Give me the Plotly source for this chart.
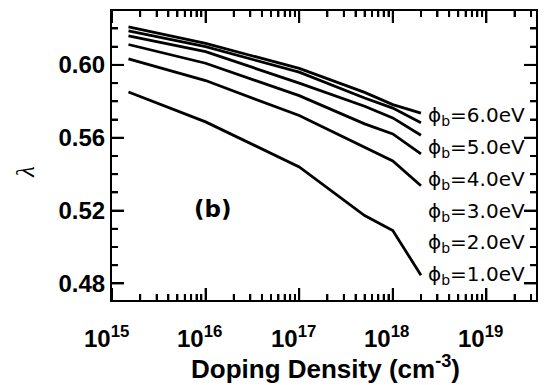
import math
import plotly.graph_objects as go

# Data
doping = [1.5e15, 1e16, 1e17, 5e17, 1e18, 2e18]
lam_6eV = [0.6209, 0.6118, 0.5981, 0.5849, 0.5782, 0.5735]
lam_5eV = [0.6187, 0.6100, 0.5960, 0.5818, 0.5763, 0.5682]
lam_4eV = [0.6160, 0.6073, 0.5900, 0.5773, 0.5709, 0.5614]
lam_3eV = [0.6112, 0.6009, 0.5831, 0.5676, 0.5621, 0.5511]
lam_2eV = [0.6033, 0.5914, 0.5722, 0.5545, 0.5472, 0.5336]
lam_1eV = [0.5851, 0.5687, 0.5440, 0.5173, 0.5091, 0.4845]
series = [lam_6eV, lam_5eV, lam_4eV, lam_3eV, lam_2eV, lam_1eV]
labels = ["6.0", "5.0", "4.0", "3.0", "2.0", "1.0"]

x_major = [1e15, 1e16, 1e17, 1e18, 1e19]
x_major_text = ["10<sup>15</sup>", "10<sup>16</sup>", "10<sup>17</sup>",
                "10<sup>18</sup>", "10<sup>19</sup>"]
x_minor = [float(k) * 10.0 ** d for d in range(15, 20) for k in range(2, 10)]
y_major = [0.48, 0.52, 0.56, 0.60]
y_major_text = ["0.48", "0.52", "0.56", "0.60"]
y_minor = [0.47, 0.49, 0.50, 0.51, 0.53, 0.54, 0.55, 0.57, 0.58, 0.59, 0.61, 0.62]

X_RANGE = [15, 19.53]
Y_RANGE = [0.4709, 0.6296]

# page is offset by the 8px body margin; figure sized to fit the window
W, H = 539, 377
PL, PR, PT, PB = 104, 528, 1, 292      # plot area in figure pixels
pw, ph = PR - PL, PB - PT


def px(xp):   # page x -> paper
    return (xp - 8 - PL) / pw


def py(yp):   # page y -> paper
    return (PB - (yp - 8)) / ph


fig = go.Figure()
for s in series:
    fig.add_trace(go.Scatter(x=doping, y=s, mode="lines",
                             line=dict(color="black", width=2.8), showlegend=False))

# inside tick marks on all four sides, drawn on the data axes
dy = (Y_RANGE[1] - Y_RANGE[0]) / ph
dlx = (X_RANGE[1] - X_RANGE[0]) / pw
tx, ty = [], []
for vals, L in [(x_major, 12), (x_minor, 6)]:
    for v in vals:
        if X_RANGE[0] <= math.log10(v) <= X_RANGE[1]:
            tx += [v, v, None, v, v, None]
            ty += [Y_RANGE[0], Y_RANGE[0] + L * dy, None,
                   Y_RANGE[1], Y_RANGE[1] - L * dy, None]
for vals, L in [(y_major, 12), (y_minor, 6)]:
    for v in vals:
        if Y_RANGE[0] <= v <= Y_RANGE[1]:
            tx += [10 ** X_RANGE[0], 10 ** (X_RANGE[0] + L * dlx), None,
                   10 ** X_RANGE[1], 10 ** (X_RANGE[1] - L * dlx), None]
            ty += [v, v, None, v, v, None]
fig.add_trace(go.Scatter(x=tx, y=ty, mode="lines", line=dict(color="black", width=2),
                         showlegend=False, hoverinfo="skip", connectgaps=False))

# x tick labels
for v, t in zip(x_major, x_major_text):
    fig.add_annotation(xref="x", yref="paper", x=math.log10(v), y=py(337), xshift=-6,
                       xanchor="center", yanchor="middle", showarrow=False,
                       text="<b>" + t + "</b>",
                       font=dict(family="Liberation Sans, Arial", size=24, color="black"))

for lab, yy in zip(labels, [115, 147, 179, 211, 243, 275]):
    fig.add_annotation(xref="paper", yref="paper", x=px(426), y=py(yy),
                       xanchor="left", yanchor="middle", showarrow=False,
                       text="ϕ<sub>b</sub>=" + lab + "eV",
                       font=dict(family="DejaVu Sans", size=20, color="black"))

fig.add_annotation(xref="paper", yref="paper", x=px(213), y=py(208),
                   xanchor="center", yanchor="middle", showarrow=False,
                   text="<b>(b)</b>", font=dict(family="DejaVu Sans", size=23, color="black"))

fig.add_annotation(xref="paper", yref="paper", x=px(26), y=py(171),
                   xanchor="center", yanchor="middle", showarrow=False, textangle=-90,
                   text="<i>λ</i>", font=dict(family="Liberation Serif", size=25, color="black"))

fig.add_annotation(xref="paper", yref="paper", x=px(325), y=py(368),
                   xanchor="center", yanchor="middle", showarrow=False,
                   text="<b>Doping Density (cm<sup>-3</sup>)</b>",
                   font=dict(family="Liberation Sans, Arial", size=26, color="black"))

tickfont = dict(family="Liberation Sans, Arial", size=24, color="black", weight="bold")
common = dict(showline=True, linecolor="black", linewidth=2, mirror="allticks",
              showgrid=False, zeroline=False,
              ticks="inside", ticklen=12, tickwidth=2, tickcolor="black")

fig.update_layout(
    width=W, height=H, margin=dict(l=PL, r=W - PR, t=PT, b=H - PB),
    plot_bgcolor="white", paper_bgcolor="white",
    xaxis=dict(type="log", range=X_RANGE, tickmode="array", tickvals=x_major,
               showticklabels=False,
               minor=dict(tickvals=x_minor, ticks="inside", ticklen=6, tickwidth=2,
                          tickcolor="black", showgrid=False),
               **common),
    yaxis=dict(range=Y_RANGE, tickmode="array", tickvals=y_major,
               ticktext=y_major_text, tickfont=tickfont,
               minor=dict(tickvals=y_minor, ticks="inside", ticklen=6, tickwidth=2,
                          tickcolor="black", showgrid=False),
               **common),
)

fig.write_html("out.html")
